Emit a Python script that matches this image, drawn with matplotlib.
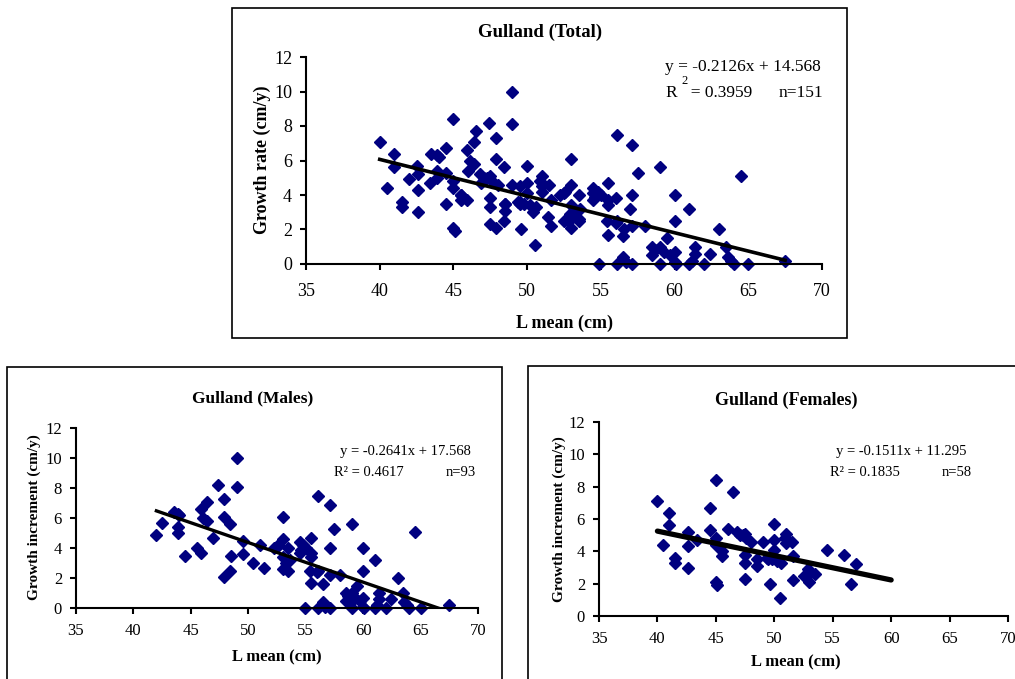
import matplotlib.pyplot as plt
import numpy as np
from matplotlib.patches import Rectangle

plt.rcParams['font.family'] = ['Liberation Serif', 'DejaVu Serif']

# data: L mean (cm), growth (cm/y)
male_L = [42.0, 42.5, 43.5, 43.9, 44.0, 43.9, 43.9, 44.5, 45.5, 45.9,
          45.9, 46.1, 46.4, 46.4, 46.9, 47.4, 47.9, 47.9, 48.4, 47.9,
          48.4, 48.5, 49.0, 49.0, 49.5, 49.5, 50.4, 51.0, 51.4, 52.2,
          52.6, 53.0, 53.0, 53.0, 53.0, 53.5, 53.5, 53.6, 54.5, 54.5,
          54.8, 55.5, 55.5, 55.5, 55.4, 55.5, 54.9, 56.1, 56.1, 56.1,
          56.5, 56.5, 56.7, 57.1, 57.1, 57.1, 57.1, 57.5, 58.0, 58.5,
          58.5, 59.0, 59.0, 59.0, 59.5, 59.7, 60.0, 60.0, 60.0, 60.1,
          61.0, 61.0, 61.4, 61.4, 62.0, 62.4, 63.0, 63.5, 63.6, 64.0,
          64.5, 65.0, 67.5, 53.3, 54.6, 55.0, 56.0, 58.7, 59.3, 60.0,
          61.2, 63.8, 52.5]
male_G = [4.9, 5.7, 6.4, 6.3, 6.2, 5.4, 5.0, 3.5, 4.0, 3.7,
          6.6, 6.0, 5.8, 7.1, 4.7, 8.2, 7.3, 6.1, 5.6, 2.1,
          2.5, 3.5, 10.0, 8.1, 4.5, 3.6, 3.0, 4.2, 2.7, 4.0,
          4.2, 6.1, 4.6, 3.4, 2.6, 2.5, 4.0, 3.2, 4.4, 3.7,
          4.2, 4.7, 3.7, 3.4, 2.5, 1.7, 0.0, 7.5, 2.5, 0.0,
          1.6, 0.4, 0.1, 6.9, 4.0, 2.2, 0.0, 5.3, 2.2, 1.0,
          0.5, 5.6, 1.0, 0.0, 1.5, 0.5, 4.0, 2.5, 0.7, 0.0,
          3.2, 0.0, 1.0, 0.6, 0.0, 0.6, 2.0, 1.0, 0.4, 0.0,
          5.1, 0.0, 0.2, 3.0, 3.9, 4.0, 2.4, 0.8, 0.7, 0.1,
          0.2, 0.2, 4.1]

female_L = [40.0, 40.5, 41.0, 41.0, 41.5, 41.5, 42.6, 42.6, 42.6, 43.4,
            44.5, 44.5, 45.0, 45.0, 45.0, 45.0, 45.1, 45.5, 45.5, 46.0,
            46.5, 46.8, 47.1, 47.5, 47.5, 47.5, 47.5, 47.6, 48.0, 48.5,
            48.5, 49.0, 49.4, 49.6, 50.0, 50.0, 50.0, 49.8, 50.2, 50.6,
            50.5, 51.0, 51.0, 51.5, 51.6, 51.6, 52.5, 52.9, 53.0, 53.5,
            54.5, 56.0, 56.6, 57.0, 47.3, 50.9, 52.8, 49.5]
female_G = [7.1, 4.4, 6.4, 5.6, 3.6, 3.3, 5.2, 4.3, 3.0, 4.7,
            6.7, 5.3, 8.4, 4.8, 4.4, 2.1, 1.9, 4.0, 3.7, 5.4,
            7.7, 5.2, 5.0, 5.1, 3.8, 3.3, 2.3, 4.8, 4.6, 3.5,
            3.1, 4.6, 3.6, 2.0, 5.7, 4.7, 4.1, 3.5, 3.4, 3.3,
            1.1, 5.1, 4.5, 4.6, 3.7, 2.2, 2.5, 2.9, 2.1, 2.6,
            4.1, 3.8, 2.0, 3.2, 5.0, 4.8, 2.5, 3.5]

total_L = male_L + female_L
total_G = male_G + female_G

# trend lines as printed on the chart
fit_total = (-0.2126, 14.568)
fit_male = (-0.2641, 17.568)
fit_female = (-0.1511, 11.295)
female_line_end = 60

W, H = 1015, 679
fig = plt.figure(figsize=(W / 100, H / 100), dpi=100)


def fx(x):
    return x / W


def fy(y):
    return 1 - y / H


def make_axes(l, r, t, b):
    return fig.add_axes([fx(l), fy(b), fx(r) - fx(l), fy(t) - fy(b)])


def style(ax, fs, xpad):
    ax.set_xlim(35, 70)
    ax.set_ylim(0, 12)
    ax.set_xticks(np.arange(35, 75, 5))
    ax.set_yticks(np.arange(0, 14, 2))
    for s in ['top', 'right']:
        ax.spines[s].set_visible(False)
    for s in ['left', 'bottom']:
        ax.spines[s].set_linewidth(1.5)
    ax.tick_params(direction='out', length=4, width=1.5, labelsize=fs, pad=6)
    ax.tick_params(axis='x', pad=xpad)
    ax.patch.set_visible(False)


navy = '#000080'
ms = 6.4

# frames
fig.patches.append(Rectangle((fx(232), fy(338)), fx(847) - fx(232), fy(8) - fy(338),
                             transform=fig.transFigure, fill=False, lw=1.2, ec='black'))
fig.patches.append(Rectangle((fx(7), fy(700)), fx(502) - fx(7), fy(367) - fy(700),
                             transform=fig.transFigure, fill=False, lw=1.2, ec='black'))
fig.patches.append(Rectangle((fx(528), fy(700)), fx(1040) - fx(528), fy(366) - fy(700),
                             transform=fig.transFigure, fill=False, lw=1.2, ec='black'))

# ---- Total
ax1 = make_axes(306, 822, 57, 264)
style(ax1, 13, 10)
ax1.plot(total_L, total_G, 'D', color=navy, ms=ms, mec=navy, clip_on=False)
xs = np.array([min(total_L), max(total_L)])
ax1.plot(xs, fit_total[0] * xs + fit_total[1], color='black', lw=2.6)
fig.text(fx(540), fy(32), 'Gulland (Total)', ha='center', va='center', fontsize=13.5, fontweight='bold')
fig.text(fx(565), fy(323), 'L mean (cm)', ha='center', va='center', fontsize=13, fontweight='bold')
fig.text(fx(262), fy(160), 'Growth rate (cm/y)', ha='center', va='center', rotation=90,
         fontsize=13, fontweight='bold')
fig.text(fx(665), fy(67), 'y = -0.2126x + 14.568', ha='left', va='center', fontsize=12.5)
fig.text(fx(681), fy(81), '2', ha='left', va='center', fontsize=9)
fig.text(fx(666), fy(93), 'R   = 0.3959', ha='left', va='center', fontsize=12.5)
fig.text(fx(823), fy(93), 'n=151', ha='right', va='center', fontsize=12.5)

# ---- Males
ax2 = make_axes(76, 478, 428, 608)
style(ax2, 12, 7)
ax2.plot(male_L, male_G, 'D', color=navy, ms=ms, mec=navy, clip_on=False)
xs = np.array([min(male_L), max(male_L)])
ax2.plot(xs, fit_male[0] * xs + fit_male[1], color='black', lw=2.4)
fig.text(fx(253), fy(398), 'Gulland (Males)', ha='center', va='center', fontsize=12.5, fontweight='bold')
fig.text(fx(277), fy(657), 'L mean (cm)', ha='center', va='center', fontsize=12, fontweight='bold')
fig.text(fx(34), fy(517), 'Growth increment (cm/y)', ha='center', va='center', rotation=90,
         fontsize=11, fontweight='bold')
fig.text(fx(340), fy(452), 'y = -0.2641x + 17.568', ha='left', va='center', fontsize=10.5)
fig.text(fx(334), fy(473), 'R² = 0.4617', ha='left', va='center', fontsize=10.5)
fig.text(fx(476), fy(473), 'n=93', ha='right', va='center', fontsize=10.5)

# ---- Females
ax3 = make_axes(599, 1008, 422, 616)
style(ax3, 12, 7)
ax3.plot(female_L, female_G, 'D', color=navy, ms=ms, mec=navy, clip_on=False)
xs = np.array([min(female_L), female_line_end])
ax3.plot(xs, fit_female[0] * xs + fit_female[1], color='black', lw=3.8, solid_capstyle='round')
fig.text(fx(786), fy(400), 'Gulland (Females)', ha='center', va='center', fontsize=13, fontweight='bold')
fig.text(fx(796), fy(662), 'L mean (cm)', ha='center', va='center', fontsize=12, fontweight='bold')
fig.text(fx(559), fy(519), 'Growth increment (cm/y)', ha='center', va='center', rotation=90,
         fontsize=11, fontweight='bold')
fig.text(fx(836), fy(452), 'y = -0.1511x + 11.295', ha='left', va='center', fontsize=10.5)
fig.text(fx(830), fy(473), 'R² = 0.1835', ha='left', va='center', fontsize=10.5)
fig.text(fx(972), fy(473), 'n=58', ha='right', va='center', fontsize=10.5)

fig.savefig('out.png', dpi=100)
